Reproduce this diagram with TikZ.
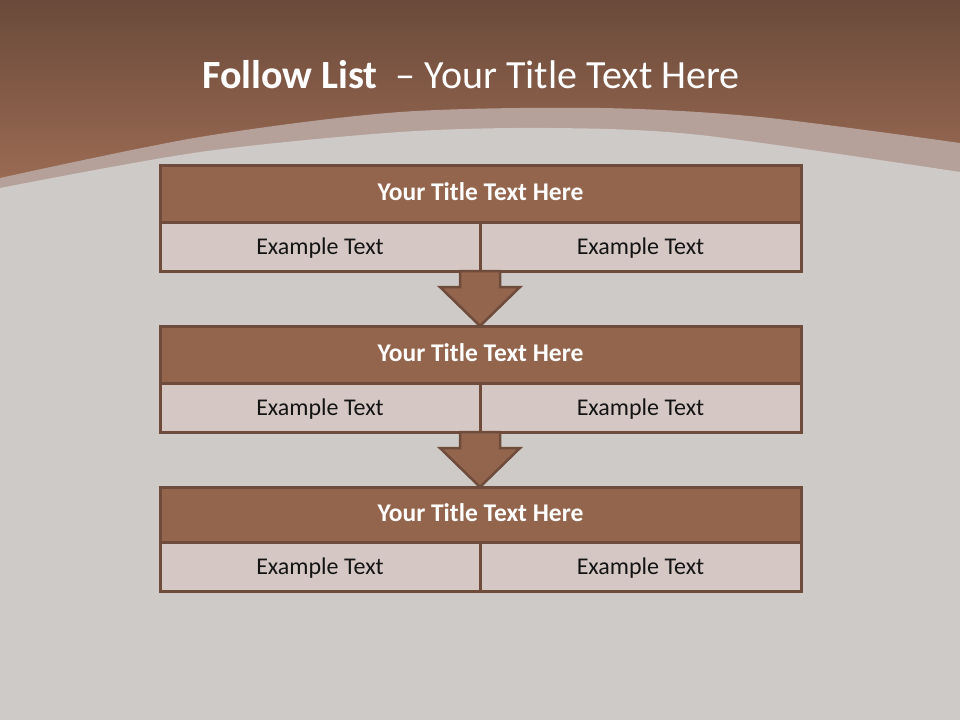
\documentclass[tikz,border=0pt]{standalone}
\usepackage{fontspec}
\setmainfont{Carlito}
\usetikzlibrary{calc}
\definecolor{bgtop}{RGB}{106,74,58}
\definecolor{bgmid}{RGB}{160,110,86}
\definecolor{band}{RGB}{181,161,153}
\definecolor{bggrey}{RGB}{206,202,199}
\definecolor{edge}{RGB}{110,75,58}
\definecolor{ttlfill}{RGB}{147,101,77}
\definecolor{cellfill}{RGB}{213,200,196}
\definecolor{celltext}{RGB}{20,20,20}
\tikzset{
  ttlbox/.style={draw=edge, line width=3pt, fill=ttlfill, text=white,
    font=\bfseries\fontsize{25.5}{29}\selectfont, minimum width=641pt,
    minimum height=57pt, inner sep=0pt, outer sep=0pt, text depth=4pt,
    anchor=north west},
  cellbox/.style={draw=edge, line width=3pt, fill=cellfill, text=celltext,
    font=\fontsize{24}{28}\selectfont, minimum height=49pt, inner sep=0pt,
    outer sep=0pt, text height=20pt, text depth=5pt, anchor=north west},
  downarrow/.style={draw=edge, line width=2.5pt, fill=ttlfill, line join=miter}
}
\begin{document}
\begin{tikzpicture}[x=1pt,y=-1pt]
\useasboundingbox (0,0) rectangle (960,720);
% background
\fill[bggrey] (0,0) rectangle (960,720);
\shade[top color=bgtop, bottom color=bgmid] (0,0) rectangle (960,200);
\fill[band] (0,230) -- plot[smooth] coordinates {(0,178) (200,137) (400,112) (600,108) (760,117) (960,143)} -- (960,230) -- cycle;
\fill[bggrey] (0,260) -- plot[smooth] coordinates {(0,188) (200,152) (400,132) (550,128) (700,135) (960,172)} -- (960,260) -- cycle;
% title
\node[text=white, font=\fontsize{40}{46}\selectfont, inner sep=0pt] (title) at (471,75)
  {\textbf{Follow List}\ \ – Your Title Text Here};
% box 1
\node[ttlbox] (t1) at (160,165) {Your Title Text Here};
\node[cellbox, minimum width=320pt] (c1l) at (160,222) {Example Text};
\node[cellbox, minimum width=321pt] (c1r) at (480,222) {Example Text};
% box 2
\node[ttlbox] (t2) at (160,326) {Your Title Text Here};
\node[cellbox, minimum width=320pt] (c2l) at (160,383) {Example Text};
\node[cellbox, minimum width=321pt] (c2r) at (480,383) {Example Text};
% box 3
\node[ttlbox, minimum height=55pt] (t3) at (160,487) {Your Title Text Here};
\node[cellbox, minimum width=320pt] (c3l) at (160,542) {Example Text};
\node[cellbox, minimum width=321pt] (c3r) at (480,542) {Example Text};
% arrows
\draw[downarrow] ($(c1l.south east)+(-20,0)$) -- ++(0,16) -- ++(-20,0)
  -- (c1l.south east |- t2.north) -- ($(c1l.south east)+(40,16)$) -- ++(-20,0) -- ++(0,-16) -- cycle;
\draw[downarrow] ($(c2l.south east)+(-20,0)$) -- ++(0,16) -- ++(-20,0)
  -- (c2l.south east |- t3.north) -- ($(c2l.south east)+(40,16)$) -- ++(-20,0) -- ++(0,-16) -- cycle;
\end{tikzpicture}
\end{document}
